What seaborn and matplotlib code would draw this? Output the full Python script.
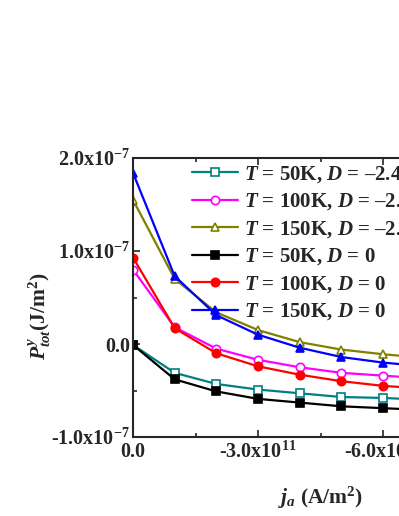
import matplotlib
matplotlib.use("Agg")
import matplotlib.pyplot as plt
import matplotlib.ticker as mticker
import seaborn as sns
import pandas as pd

# current density (A/m^2)
ja = [0.0, -1e11, -2e11, -3e11, -4e11, -5e11, -6e11, -7e11]

# P^y_tot in units of 1e-7 J/m^2
p_50_d = [-0.01, -0.31, -0.43, -0.49, -0.53, -0.57, -0.58, -0.60]
p_100_d = [0.80, 0.18, -0.05, -0.17, -0.25, -0.31, -0.34, -0.37]
p_150_d = [1.55, 0.70, 0.34, 0.15, 0.02, -0.06, -0.11, -0.15]
p_50_0 = [-0.01, -0.38, -0.51, -0.59, -0.63, -0.67, -0.69, -0.71]
p_100_0 = [0.93, 0.17, -0.10, -0.24, -0.33, -0.40, -0.45, -0.48]
p_150_0 = [1.84, 0.73, 0.31, 0.10, -0.04, -0.14, -0.20, -0.24]

labels = [
    r"$T$ = 50K, $D$ = –2.4",
    r"$T$ = 100K, $D$ = –2.4",
    r"$T$ = 150K, $D$ = –2.4",
    r"$T$ = 50K, $D$ = 0",
    r"$T$ = 100K, $D$ = 0",
    r"$T$ = 150K, $D$ = 0",
]
series = [p_50_d, p_100_d, p_150_d, p_50_0, p_100_0, p_150_0]
colors = ["#008080", "#FF00FF", "#808000", "#000000", "#FF0000", "#0000FF"]
markers = ["s", "o", "^", "s", "o", "^"]
filled = [False, False, False, True, True, True]

sns.set_style("ticks")
plt.rcParams["font.family"] = ["Liberation Serif", "DejaVu Serif"]
plt.rcParams["font.weight"] = "bold"
plt.rcParams["mathtext.fontset"] = "custom"
plt.rcParams["mathtext.rm"] = "Liberation Serif:bold"
plt.rcParams["mathtext.bf"] = "Liberation Serif:bold"
plt.rcParams["mathtext.it"] = "Liberation Serif:bold:italic"

fig = plt.figure(figsize=(3.99, 5.16), dpi=100)
ax = fig.add_axes([133 / 399, 1 - 437 / 516, 375 / 399, 279 / 516])

for vals, lab, col, mk, fill in zip(series, labels, colors, markers, filled):
    df = pd.DataFrame({"ja": ja, "p": [v * 1e-7 for v in vals]})
    sns.lineplot(data=df, x="ja", y="p", ax=ax, color=col, marker=mk,
                 markersize=6, markeredgewidth=1.2, markeredgecolor=col,
                 markerfacecolor=col if fill else "white",
                 linewidth=1.6, label=lab)

ax.set_xlim(0, -9e11)
ax.set_ylim(-1e-7, 2e-7)


def xfmt(v, pos):
    if abs(v) < 1:
        return "0.0"
    return "%.1fx10$^{11}$" % (v / 1e11)


def yfmt(v, pos):
    if abs(v) < 1e-12:
        return "0.0"
    return "%.1fx10$^{-7}$" % (v / 1e-7)


ax.xaxis.set_major_locator(mticker.MultipleLocator(3e11))
ax.xaxis.set_minor_locator(mticker.MultipleLocator(1.5e11))
ax.yaxis.set_major_locator(mticker.MultipleLocator(1e-7))
ax.yaxis.set_minor_locator(mticker.MultipleLocator(0.5e-7))
ax.xaxis.set_major_formatter(mticker.FuncFormatter(xfmt))
ax.yaxis.set_major_formatter(mticker.FuncFormatter(yfmt))
ax.tick_params(which="both", direction="in", top=True, right=True,
               width=1.2, labelsize=14.5)
ax.tick_params(which="major", length=5)
ax.tick_params(which="minor", length=3)
ax.tick_params(axis="y", pad=2)
for s in ax.spines.values():
    s.set_linewidth(1.5)
    s.set_visible(True)

ax.set_xlabel(r"$j_a$ (A/m$^2$)", fontsize=15.5, fontweight="bold")
ax.set_ylabel(r"$P^y_{tot}$(J/m$^2$)", fontsize=15.5, fontweight="bold")
ax.xaxis.set_label_coords(0.5, -0.17)
ax.yaxis.set_label_coords(-0.213, 0.434)

handles, labs = ax.get_legend_handles_labels()
ax.legend(handles, labs, loc="upper left", frameon=False,
          bbox_to_anchor=(192 / 399, 1 - 164 / 516),
          bbox_transform=fig.transFigure, fontsize=15,
          handlelength=2.2, handletextpad=0.3, labelspacing=0.32,
          borderaxespad=0, borderpad=0)

fig.savefig("out.png", dpi=100)
